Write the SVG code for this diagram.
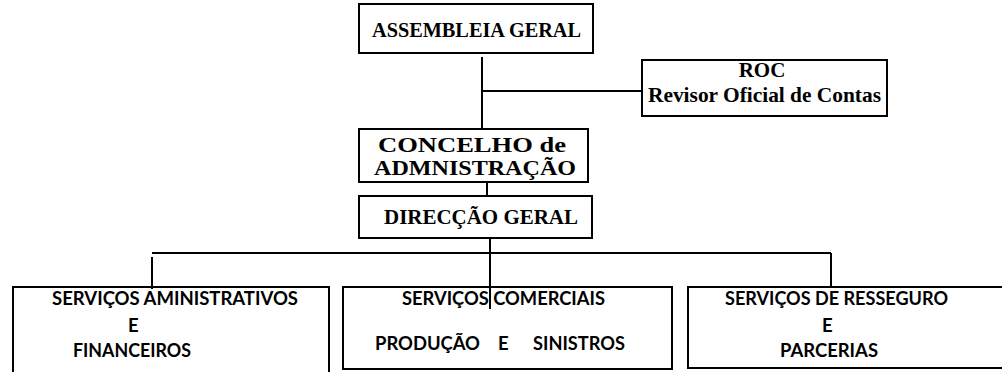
<svg xmlns="http://www.w3.org/2000/svg" width="1002" height="372" viewBox="0 0 1002 372">
<style>
.box{fill:#fff;stroke:#000;stroke-width:2}
.conn{stroke:#000;stroke-width:2;fill:none}
.t1{font-family:"Liberation Serif",serif;font-weight:bold;font-size:21px;fill:#000}
.t1b{font-size:22px}
.t2{font-family:Lato,"Liberation Sans",sans-serif;font-weight:bold;font-size:18.5px;fill:#000}
</style>
<rect width="1002" height="372" fill="#fff"/>
<g id="assembleia">
<rect class="box" x="359" y="4" width="234" height="49"/>
<text class="t1" x="372" y="37" textLength="209" lengthAdjust="spacingAndGlyphs">ASSEMBLEIA GERAL</text>
</g>
<g id="roc">
<rect class="box" x="642" y="60" width="245" height="56"/>
<text class="t1" x="762" y="77" text-anchor="middle">ROC</text>
<text class="t1" x="648" y="102" textLength="233" lengthAdjust="spacingAndGlyphs">Revisor Oficial de Contas</text>
</g>
<g id="concelho">
<rect class="box" x="359" y="129" width="229" height="53"/>
<text class="t1 t1b" x="378" y="152" textLength="188" lengthAdjust="spacingAndGlyphs">CONCELHO de</text>
<text class="t1 t1b" x="374" y="175" textLength="202" lengthAdjust="spacingAndGlyphs">ADMNISTRAÇÃO</text>
</g>
<g id="direccao">
<rect class="box" x="359" y="196" width="233" height="42"/>
<text class="t1" x="384" y="224" textLength="194" lengthAdjust="spacingAndGlyphs">DIRECÇÃO GERAL</text>
</g>
<g id="servicos-adm">
<rect class="box" x="13" y="287" width="316" height="100"/>
<text class="t2" x="52" y="305" textLength="246" lengthAdjust="spacingAndGlyphs">SERVIÇOS AMINISTRATIVOS</text>
<text class="t2" x="128" y="332">E</text>
<text class="t2" x="73" y="357" textLength="118" lengthAdjust="spacingAndGlyphs">FINANCEIROS</text>
</g>
<g id="servicos-com">
<rect class="box" x="343" y="287" width="329" height="82"/>
<text class="t2" x="402" y="305" textLength="203" lengthAdjust="spacingAndGlyphs">SERVIÇOS COMERCIAIS</text>
<text class="t2" x="375" y="350" textLength="105" lengthAdjust="spacingAndGlyphs">PRODUÇÃO</text>
<text class="t2" x="498" y="350">E</text>
<text class="t2" x="533" y="350" textLength="92" lengthAdjust="spacingAndGlyphs">SINISTROS</text>
</g>
<g id="servicos-res">
<rect class="box" x="688" y="287" width="330" height="81"/>
<text class="t2" x="725" y="305" textLength="223" lengthAdjust="spacingAndGlyphs">SERVIÇOS DE RESSEGURO</text>
<text class="t2" x="822" y="332">E</text>
<text class="t2" x="780" y="357" textLength="98" lengthAdjust="spacingAndGlyphs">PARCERIAS</text>
</g>
<g id="connectors">
<line class="conn" x1="482" y1="57" x2="482" y2="129"/>
<line class="conn" x1="482" y1="91" x2="642" y2="91"/>
<line class="conn" x1="487" y1="182" x2="487" y2="196"/>
<line class="conn" x1="490" y1="238" x2="490" y2="309"/>
<line class="conn" x1="152" y1="253" x2="831" y2="253"/>
<line class="conn" x1="152" y1="257" x2="152" y2="289"/>
<line class="conn" x1="831" y1="253" x2="831" y2="287"/>
</g>
</svg>
